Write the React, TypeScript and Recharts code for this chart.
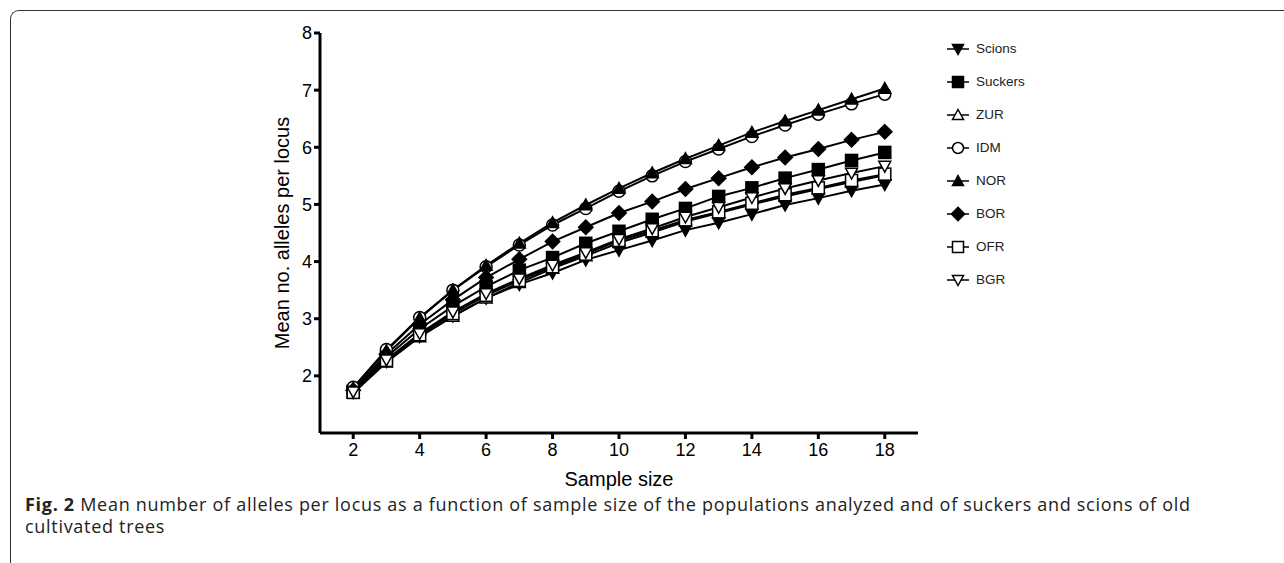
import { LineChart, Line, XAxis, YAxis, Label } from 'recharts';

// sample sizes (x) and mean number of alleles per locus for each group
const SAMPLE_SIZES = [2, 3, 4, 5, 6, 7, 8, 9, 10, 11, 12, 13, 14, 15, 16, 17, 18];
const SCIONS = [1.71, 2.25, 2.69, 3.05, 3.36, 3.6, 3.8, 4.03, 4.2, 4.37, 4.55, 4.68, 4.83, 4.99, 5.11, 5.24, 5.35];
const SUCKERS = [1.73, 2.33, 2.82, 3.22, 3.56, 3.85, 4.07, 4.32, 4.53, 4.74, 4.93, 5.14, 5.29, 5.46, 5.61, 5.77, 5.91];
const ZUR = [1.7, 2.24, 2.68, 3.04, 3.36, 3.63, 3.88, 4.1, 4.33, 4.51, 4.7, 4.85, 5.0, 5.14, 5.27, 5.39, 5.51];
const IDM = [1.8, 2.46, 3.02, 3.5, 3.91, 4.29, 4.64, 4.93, 5.23, 5.5, 5.75, 5.97, 6.19, 6.39, 6.58, 6.76, 6.93];
const NOR = [1.78, 2.44, 3.01, 3.5, 3.93, 4.32, 4.68, 4.99, 5.28, 5.55, 5.8, 6.03, 6.26, 6.46, 6.65, 6.84, 7.03];
const BOR = [1.75, 2.38, 2.9, 3.33, 3.72, 4.04, 4.35, 4.6, 4.85, 5.05, 5.27, 5.46, 5.65, 5.82, 5.97, 6.13, 6.27];
const OFR = [1.71, 2.27, 2.72, 3.09, 3.41, 3.67, 3.91, 4.13, 4.37, 4.54, 4.73, 4.87, 5.02, 5.17, 5.29, 5.42, 5.53];
const BGR = [1.72, 2.28, 2.74, 3.12, 3.44, 3.7, 3.94, 4.16, 4.39, 4.58, 4.78, 4.95, 5.12, 5.28, 5.42, 5.55, 5.67];

const X_TICKS = [2, 4, 6, 8, 10, 12, 14, 16, 18];
const Y_TICKS = [2, 3, 4, 5, 6, 7, 8];

const CAPTION_LINES = [
  'Mean number of alleles per locus as a function of sample size of the populations analyzed and of suckers and scions of old',
  'cultivated trees',
];

type Shape = 'triDown' | 'square' | 'triUp' | 'circle' | 'diamond';

// legend order = draw order
const SERIES: { name: string; values: number[]; shape: Shape; filled: boolean }[] = [
  { name: 'Scions', values: SCIONS, shape: 'triDown', filled: true },
  { name: 'Suckers', values: SUCKERS, shape: 'square', filled: true },
  { name: 'ZUR', values: ZUR, shape: 'triUp', filled: false },
  { name: 'IDM', values: IDM, shape: 'circle', filled: false },
  { name: 'NOR', values: NOR, shape: 'triUp', filled: true },
  { name: 'BOR', values: BOR, shape: 'diamond', filled: true },
  { name: 'OFR', values: OFR, shape: 'square', filled: false },
  { name: 'BGR', values: BGR, shape: 'triDown', filled: false },
];

const rows = SAMPLE_SIZES.map((n, i) => {
  const r: Record<string, number> = { n };
  SERIES.forEach(s => { r[s.name] = s.values[i]; });
  return r;
});

const FONT = '"Liberation Sans", Arial, sans-serif';

function Marker({ shape, filled, cx, cy, s = 6 }: { shape: Shape; filled: boolean; cx: number; cy: number; s?: number }) {
  const fill = filled ? '#000' : '#fff';
  const common = { fill, stroke: '#000', strokeWidth: 1.5 };
  switch (shape) {
    case 'triDown':
      return <polygon {...common} points={`${cx - s},${cy - s * 0.8} ${cx + s},${cy - s * 0.8} ${cx},${cy + s}`} />;
    case 'triUp':
      return <polygon {...common} points={`${cx - s},${cy + s * 0.8} ${cx + s},${cy + s * 0.8} ${cx},${cy - s}`} />;
    case 'square':
      return <rect {...common} x={cx - s} y={cy - s} width={s * 2} height={s * 2} />;
    case 'circle':
      return <circle {...common} cx={cx} cy={cy} r={s} />;
    case 'diamond':
      return <polygon {...common} points={`${cx},${cy - s * 1.2} ${cx + s * 1.2},${cy} ${cx},${cy + s * 1.2} ${cx - s * 1.2},${cy}`} />;
  }
}

const renderDot = (shape: Shape, filled: boolean) => (props: any) => (
  <g key={props.key ?? `${shape}-${props.index}`}>
    <Marker shape={shape} filled={filled} cx={props.cx} cy={props.cy} />
  </g>
);

// legend sits to the right of the plot, outside the chart's layout
function SeriesLegend() {
  return (
    <div style={{ position: 'absolute', left: 946, top: 32, fontFamily: FONT, fontSize: 13.5, color: '#222' }}>
      {SERIES.map(s => (
        <div key={s.name} style={{ display: 'flex', alignItems: 'center', height: 33 }}>
          <svg width={24} height={20} style={{ marginRight: 6 }}>
            <line x1={1} x2={23} y1={10} y2={10} stroke="#000" strokeWidth={1.5} />
            <Marker shape={s.shape} filled={s.filled} cx={12} cy={10} s={5.5} />
          </svg>
          <span>{s.name}</span>
        </div>
      ))}
    </div>
  );
}

export default function App() {
  return (
    <div style={{ position: 'absolute', left: 0, top: 0, width: 1284, height: 563, background: '#fff', overflow: 'hidden' }}>
      <div
        style={{
          position: 'absolute', left: 10, top: 10, width: 1290, height: 560,
          borderTop: '1.5px solid #333', borderLeft: '1.5px solid #333', borderTopLeftRadius: 9,
        }}
      />
      <div style={{ position: 'absolute', left: 0, top: 0 }}>
        <LineChart width={1284} height={563} data={rows} margin={{ top: 33, right: 366, bottom: 70, left: 260 }}>
          <XAxis
            dataKey="n" type="number" domain={[1, 19]} ticks={X_TICKS} interval={0} height={60}
            axisLine={{ stroke: '#000', strokeWidth: 3 }} tickLine={{ stroke: '#000', strokeWidth: 3 }}
            tickSize={6} tickMargin={4} tick={{ fill: '#000', fontSize: 18, fontFamily: FONT }}
          >
            <Label
              content={({ viewBox }: any) => (
                <text x={viewBox.x + viewBox.width / 2} y={viewBox.y + 53} textAnchor="middle" fontSize={20} fontFamily={FONT} fill="#000">
                  Sample size
                </text>
              )}
            />
          </XAxis>
          <YAxis
            type="number" domain={[1, 8]} ticks={Y_TICKS} interval={0} width={60}
            axisLine={{ stroke: '#000', strokeWidth: 3 }} tickLine={{ stroke: '#000', strokeWidth: 3 }}
            tickSize={6} tickMargin={2} tick={{ fill: '#000', fontSize: 18, fontFamily: FONT }}
          >
            <Label
              content={({ viewBox }: any) => {
                const x = viewBox.x + 29;
                const y = viewBox.y + viewBox.height / 2;
                return (
                  <text x={x} y={y} transform={`rotate(-90 ${x} ${y})`} textAnchor="middle" fontSize={20} fontFamily={FONT} fill="#000">
                    Mean no. alleles per locus
                  </text>
                );
              }}
            />
          </YAxis>
          {SERIES.map(s => (
            <Line
              key={s.name} dataKey={s.name} type="linear" stroke="#000" strokeWidth={2}
              dot={renderDot(s.shape, s.filled)} activeDot={false} isAnimationActive={false}
            />
          ))}
        </LineChart>
      </div>
      <SeriesLegend />
      <div
        style={{
          position: 'absolute', left: 25, top: 493, whiteSpace: 'nowrap',
          fontFamily: '"Open Sans", sans-serif', fontSize: 18, lineHeight: '22px', letterSpacing: 0.7, color: '#222',
        }}
      >
        <div><b>Fig. 2</b> {CAPTION_LINES[0]}</div>
        <div>{CAPTION_LINES[1]}</div>
      </div>
    </div>
  );
}
